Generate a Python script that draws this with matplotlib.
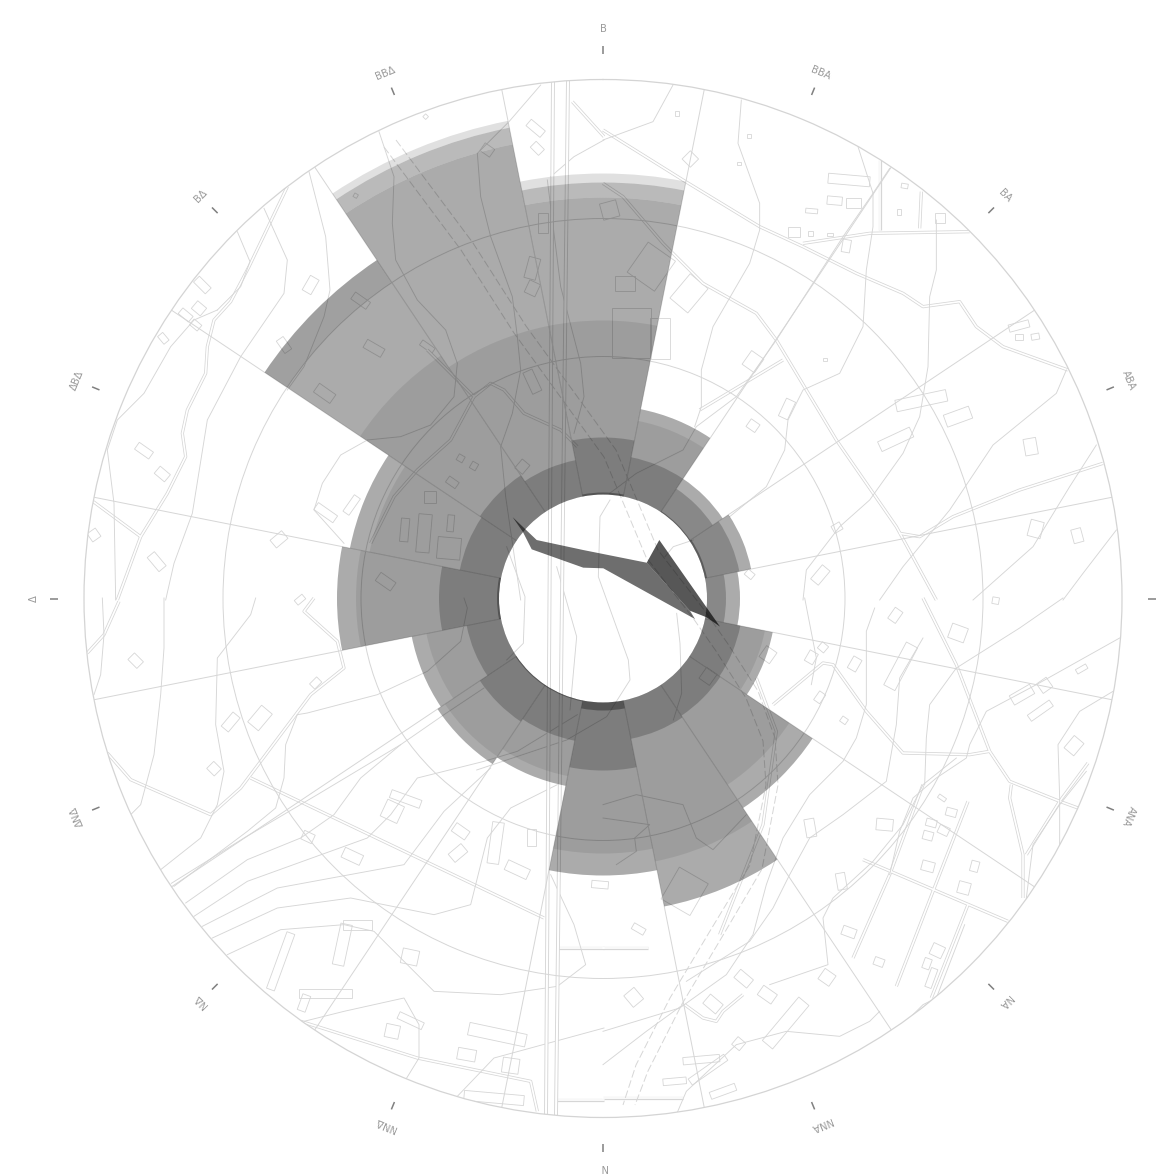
import matplotlib
matplotlib.use("Agg")
import matplotlib.pyplot as plt
from matplotlib.patches import Circle, Polygon
import numpy as np

W, H = 1165, 1176
CX, CY = 603, 598.5
R_OUT = 519
R_IN = 104

# compass sectors, clockwise from the top
labels = ["B", "BBA", "BA", "ABA", "", "ANA", "NA", "NNA", "N", "NNΔ", "NΔ", "ΔNΔ", "Δ", "ΔBΔ", "BΔ", "BBΔ"]
directions = np.arange(16) * 22.5

# rose values, one ring per series (outer radius per sector)
pale = [425, 0, 0, 0, 0, 0, 0, 0, 0, 0, 0, 0, 0, 0, 0, 487]
light = [416, 0, 0, 0, 0, 0, 0, 0, 0, 0, 0, 0, 0, 0, 0, 480]
medium = [401, 193, 144, 151, 137, 173, 252, 314, 277, 191, 199, 195, 266, 258, 407, 463]
inner = [278, 181, 0, 0, 0, 165, 224, 268, 255, 181, 190, 180, 247, 238, 292, 278]
core = [161, 144, 132, 139, 123, 140, 141, 143, 172, 145, 148, 139, 164, 146, 148, 141]
rim = [2, 0, 1, 2, 0, 0, 0, 0, 8, 1, 1, 0, 2, 0, 0, 0]
# the far part of the BΔ sector is a little darker
far_from = [0, 0, 0, 0, 0, 0, 0, 0, 0, 0, 0, 0, 0, 0, 380, 0]
far_to = [0, 0, 0, 0, 0, 0, 0, 0, 0, 0, 0, 0, 0, 0, 407, 0]

# centre shape, angle in degrees and radius
body_deg = [-48.0, -48.6, -22.1, 50.7, 98, 102.6, 0.6, -32.6, -55.4, -50.2]
body_r = [121.5, 88.4, 52.3, 56.5, 87.8, 94.3, 30.2, 36.6, 86.6, 104.5]
tri_deg = [50.7, 43.9, 103.5, 100.3, 98]
tri_r = [56.5, 81.2, 120.3, 105.4, 87.8]

# background map, traced in four quarter crops (3x px), origin per quarter
ORIGIN = {"nw": (84, 80), "ne": (603, 80), "sw": (84, 598), "se": (603, 598), "c": (360, 360)}

thin_lines = {
    "nw": [
        [(885, 155), (930, 290), (925, 430), (935, 540), (1000, 660), (1085, 750), (1120, 850), (1110, 950), (1040, 1035), (950, 1070), (850, 1080), (770, 1125), (715, 1210), (690, 1290), (780, 1390)],
        [(1370, 15), (1275, 125), (1180, 220), (1190, 350), (1220, 470), (1285, 650), (1300, 770), (1310, 870), (1285, 1000), (1250, 1100), (1265, 1250), (1310, 1560)],
        [(675, 275), (725, 470), (738, 630), (720, 710), (660, 860), (610, 930)],
        [(540, 385), (610, 540), (600, 640), (470, 830), (370, 1020), (325, 1300), (270, 1450), (245, 1560)],
        [(460, 455), (498, 545), (470, 620), (400, 690)],
        [(400, 690), (330, 720), (260, 800), (180, 940), (100, 1020), (70, 1110), (90, 1270), (95, 1560)],
        [(1400, 290), (1470, 230), (1560, 180)],
        [(1390, 300), (1430, 620), (1490, 850), (1500, 950), (1470, 1060)],
    ],
    "ne": [
        [(210, 15), (150, 125), (0, 180)],
        [(415, 60), (405, 190), (470, 370), (470, 450), (440, 550), (330, 740), (295, 870), (295, 980), (275, 1040)],
        [(860, 265), (810, 340), (720, 470), (520, 780), (400, 950), (280, 1040), (240, 1110), (100, 1180), (20, 1240)],
        [(765, 200), (810, 340), (810, 440), (790, 570), (780, 740), (710, 880), (600, 930), (555, 1020), (545, 1110), (490, 1220), (380, 1310)],
        [(1000, 420), (1000, 570), (980, 650), (975, 860), (950, 1010), (900, 1120), (800, 1260), (710, 1340), (610, 1470), (600, 1560)],
        [(1390, 870), (1360, 940), (1170, 1095), (1040, 1290), (900, 1460), (830, 1560)],
        [(1480, 1095), (1400, 1220), (1290, 1400), (1110, 1560)],
        [(1540, 1350), (1440, 1480), (1380, 1560)],
    ],
    "sw": [
        [(230, 815), (350, 720), (400, 620), (420, 520), (395, 380), (400, 180), (500, 50), (515, 0)],
        [(640, 350), (605, 440), (600, 540), (575, 630), (490, 700), (270, 865)],
        [(640, 350), (670, 345), (880, 290), (1030, 220), (1130, 130), (1150, 30), (1140, 0)],
        [(262, 856), (480, 720), (700, 590), (950, 440), (1080, 350), (1200, 270)],
        [(305, 915), (490, 785), (650, 720), (750, 650), (830, 540), (950, 440)],
        [(330, 955), (490, 850), (850, 720), (920, 650), (1000, 540), (1200, 490), (1300, 460), (1480, 350)],
        [(355, 985), (580, 870), (960, 800), (1080, 640), (1220, 510)],
        [(385, 1020), (580, 930), (800, 900), (1050, 950), (1160, 920), (1210, 720), (1280, 630), (1420, 560)],
        [(430, 1070), (590, 995), (780, 980), (870, 1000), (1050, 1180), (1250, 1190), (1420, 1165), (1505, 1100), (1470, 980), (1400, 830)],
        [(660, 1270), (780, 1240), (960, 1200), (1005, 1280), (1005, 1380), (965, 1445)],
        [(1120, 1495), (1230, 1380), (1560, 1290)],
        [(240, 0), (240, 150), (230, 290), (210, 470), (170, 620), (140, 650)],
        [(55, 0), (60, 110), (50, 230), (30, 290)],
    ],
    "se": [
        [(605, 0), (640, 180), (625, 260)],
        [(815, 30), (790, 100), (790, 320), (760, 420), (720, 490), (620, 590), (540, 720), (490, 860), (450, 1010), (370, 1130), (230, 1230), (0, 1300)],
        [(960, 120), (890, 240), (880, 380), (850, 550), (720, 650), (620, 720), (560, 830), (510, 930), (440, 1030), (250, 1150)],
        [(1380, 0), (1250, 90), (1060, 210), (980, 320), (970, 420), (965, 560)],
        [(1550, 120), (1300, 260), (1150, 340), (1100, 440), (1090, 480), (1000, 540), (930, 600), (890, 700), (860, 830)],
        [(1530, 280), (1430, 340), (1365, 440), (1370, 600), (1370, 760)],
        [(1060, 480), (960, 560), (900, 680), (810, 790), (690, 900), (660, 960), (675, 1100), (500, 1160)],
        [(830, 1240), (800, 1270), (710, 1315), (550, 1300), (400, 1340), (250, 1480), (220, 1550)],
        [(1085, 980), (1000, 1200), (960, 1220), (930, 1250)],
        [(0, 620), (100, 590), (240, 620), (280, 720), (330, 755), (430, 650)],
        [(0, 660), (140, 680), (95, 720), (100, 760), (40, 800)],
        [(240, 1220), (130, 1300), (0, 1400)],
        [(1450, 520), (1370, 620), (1290, 740), (1270, 900)],
    ],
    "c": [
        [(440, 560), (495, 710), (490, 850), (440, 900)],
        [(590, 620), (650, 830), (630, 1050)],
        [(750, 420), (720, 470), (715, 650), (805, 900), (810, 960), (740, 1070), (620, 1140), (350, 1230)],
        [(950, 760), (960, 850), (965, 1000), (940, 1080)],
        [(1000, 540), (940, 560), (915, 590)],
    ],
}

road_lines = {
    "nw": [
        [(610, 320), (495, 560), (440, 665), (390, 720), (370, 800), (365, 880), (310, 990), (295, 1060), (305, 1130), (250, 1240), (170, 1370), (100, 1560)],
        [(28, 1265), (170, 1370)],
        [(1030, 810), (1170, 950), (1220, 910), (1260, 930), (1320, 1000), (1430, 1050), (1480, 1100)],
        [(1170, 950), (1100, 1080), (1000, 1170), (930, 1250), (860, 1390)],
        [(1465, 65), (1560, 170)],
    ],
    "ne": [
        [(0, 150), (240, 300), (470, 440), (600, 500), (760, 580), (900, 640), (960, 680), (1070, 665), (1120, 740), (1200, 800), (1395, 870)],
        [(0, 310), (60, 350), (180, 490), (300, 610), (460, 700), (520, 780), (700, 1080), (880, 1340), (1000, 1560)],
        [(290, 990), (540, 840)],
        [(600, 490), (800, 460), (1100, 455)],
        [(830, 240), (830, 450)],
        [(955, 335), (950, 445)],
        [(1500, 1150), (1250, 1230), (1050, 1310), (950, 1370), (890, 1360)],
    ],
    "sw": [
        [(70, 465), (140, 545), (380, 650), (470, 570), (560, 450), (680, 290), (780, 210), (760, 130), (660, 40), (690, 0)],
        [(500, 540), (1380, 960)],
        [(1420, 1050), (1560, 1050)],
        [(1420, 1505), (1560, 1505)],
        [(650, 1270), (1000, 1380), (1340, 1450), (1360, 1540)],
        [(105, 10), (60, 110), (10, 165)],
    ],
    "se": [
        [(960, 0), (1060, 200), (1160, 460), (1220, 550), (1370, 610), (1425, 630)],
        [(1160, 460), (1100, 470), (900, 465), (860, 420), (790, 340), (690, 200), (660, 195), (510, 320)],
        [(780, 785), (1215, 970)],
        [(750, 1080), (860, 830), (960, 560)],
        [(880, 1165), (990, 880), (1095, 610)],
        [(1095, 920), (1040, 1060), (985, 1200)],
        [(1225, 560), (1220, 600), (1260, 770), (1260, 900)],
        [(1270, 770), (1370, 610), (1455, 495)],
        [(245, 1220), (300, 1260), (340, 1270), (360, 1240), (420, 1190)],
        [(350, 1010), (480, 680), (520, 400), (460, 240)],
        [(0, 1050), (135, 1050)],
        [(0, 1500), (240, 1500)],
    ],
}

# railway, whole picture px
rail_a = [(384, 147), (461, 250), (514, 333), (604, 457), (646, 557), (693, 618), (716, 651), (746, 698), (763, 741), (766, 785), (750, 865), (710, 931), (670, 998), (636, 1065), (623, 1105)]
rail_b = [(396, 140), (473, 243), (526, 326), (616, 450), (658, 550), (705, 611), (728, 644), (758, 691), (775, 738), (778, 785), (762, 869), (722, 937), (682, 1004), (648, 1071), (635, 1105)]
main_road_a = [(553, 80), (546, 1115)]
main_road_b = [(568, 80), (556, 1115)]

# houses: centre x, centre y, width, height, angle (crop px)
houses = {
    "nw": [(830, 662, 55, 25, 35), (870, 805, 60, 28, 30), (722, 940, 60, 32, 35), (1210, 210, 35, 28, 35), (1030, 800, 45, 18, 35), (680, 615, 30, 50, 30),
           (355, 615, 50, 25, 45), (345, 685, 35, 30, 40), (305, 705, 40, 22, 40), (335, 735, 30, 22, 40), (238, 775, 30, 20, 50), (180, 1112, 52, 25, 35),
           (235, 1182, 40, 28, 40), (600, 795, 45, 25, 55), (725, 1298, 70, 25, 35), (803, 1275, 60, 22, -55), (585, 1378, 45, 30, -40), (1130, 1135, 20, 20, 30),
           (1170, 1158, 20, 22, 30), (1105, 1207, 35, 22, 35), (1037, 1250, 35, 35, 0), (962, 1350, 25, 70, 5), (1020, 1360, 40, 115, 5), (1095, 1405, 70, 65, 5),
           (1100, 1330, 20, 50, 5), (905, 1505, 55, 30, 35), (30, 1365, 30, 30, -35), (218, 1445, 55, 28, 50), (1345, 565, 35, 65, 15), (1345, 625, 35, 40, 25),
           (1378, 430, 30, 60, 0), (1345, 905, 30, 70, -25), (1315, 1160, 30, 35, 40), (1355, 145, 55, 25, 40), (1360, 205, 35, 25, 45), (1025, 110, 12, 12, 45), (815, 347, 12, 12, 30)],
    "ne": [(738, 300, 125, 30, 5), (695, 362, 45, 25, 5), (752, 368, 45, 30, 0), (626, 393, 36, 14, 5), (573, 455, 35, 30, 0), (622, 460, 16, 14, 0),
           (680, 463, 18, 10, 0), (888, 395, 14, 18, 0), (905, 318, 20, 14, 10), (1010, 415, 30, 30, 0), (730, 498, 25, 38, 10), (262, 237, 35, 35, 45),
           (1248, 738, 62, 22, -15), (1247, 771, 24, 18, 0), (1297, 770, 24, 18, -10), (955, 962, 155, 35, -12), (1065, 1010, 80, 38, -20), (878, 1078, 105, 32, -25),
           (1283, 1100, 38, 50, -10), (1423, 1367, 30, 42, -15), (1298, 1347, 40, 50, 15), (552, 987, 30, 58, 25), (450, 1037, 32, 28, 35), (450, 845, 45, 50, 35),
           (652, 1485, 55, 30, -50), (702, 1343, 28, 24, -30), (440, 1483, 26, 20, 40), (145, 560, 100, 110, 35), (258, 640, 70, 95, 40), (85, 760, 115, 150, 0),
           (172, 775, 60, 125, 0), (65, 610, 60, 45, 0), (20, 390, 50, 50, -15), (222, 100, 14, 14, 0), (437, 168, 12, 12, 0), (408, 250, 14, 10, 0), (666, 838, 10, 10, 0)],
    "sw": [(155, 188, 38, 28, 45), (695, 255, 30, 22, -45), (440, 372, 55, 28, -50), (528, 360, 65, 42, -50), (390, 512, 32, 30, 45), (672, 717, 35, 28, 25),
           (925, 640, 55, 55, 25), (965, 603, 95, 25, 20), (805, 775, 60, 32, 25), (1130, 700, 48, 30, 35), (1122, 765, 50, 32, -40), (1235, 735, 35, 125, 8),
           (1343, 718, 28, 50, 0), (1300, 815, 72, 32, 25), (1548, 860, 50, 22, 5), (775, 1040, 35, 125, 12), (820, 980, 85, 30, 0), (590, 1090, 25, 180, 20),
           (725, 1187, 160, 26, 0), (660, 1215, 25, 50, 20), (978, 1077, 50, 45, 12), (925, 1300, 42, 40, 12), (1240, 1310, 175, 38, 12), (1148, 1370, 55, 35, 10),
           (1280, 1403, 50, 45, 8), (980, 1268, 80, 22, 25), (1230, 1500, 180, 30, 5), (648, 5, 30, 18, -40)],
    "se": [(877, 52, 28, 40, 35), (893, 205, 38, 145, 28), (755, 198, 28, 40, 30), (660, 148, 24, 24, 40), (625, 178, 28, 36, 30), (650, 298, 22, 32, 35),
           (723, 367, 20, 18, 35), (1065, 105, 50, 45, 20), (1257, 290, 70, 32, -30), (1312, 338, 80, 22, -35), (1325, 262, 35, 35, -35), (1413, 443, 38, 48, 40),
           (1436, 213, 35, 15, -30), (1178, 8, 20, 20, 10), (845, 680, 50, 35, 5), (1017, 600, 25, 12, 35), (1045, 643, 32, 24, 15), (985, 675, 32, 22, 15),
           (975, 713, 30, 26, 15), (1022, 697, 32, 26, 25), (975, 805, 38, 30, 15), (1115, 805, 24, 32, 15), (1083, 870, 36, 36, 15), (715, 850, 28, 50, -10),
           (622, 690, 30, 55, -10), (738, 1002, 42, 28, 20), (828, 1092, 30, 24, 20), (1003, 1058, 38, 36, 25), (972, 1097, 22, 32, 20), (985, 1140, 20, 60, 20),
           (672, 1138, 40, 38, 35), (422, 1142, 50, 32, 40), (493, 1190, 50, 34, 35), (330, 1218, 50, 36, 40), (92, 1198, 40, 45, -40), (548, 1275, 40, 170, 40),
           (407, 1337, 30, 30, 40), (107, 993, 40, 20, 30), (245, 880, 100, 110, 30), (315, 235, 38, 40, 35), (495, 170, 38, 40, 35), (295, 1385, 110, 22, -5),
           (215, 1450, 70, 20, -5), (315, 1415, 130, 22, -35), (360, 1480, 80, 22, -20)],
}

# canvas
fig = plt.figure(figsize=(W / 100, H / 100), dpi=100, facecolor="white")

# map layer uses picture pixels directly
map_ax = fig.add_axes([0, 0, 1, 1])
map_ax.set_xlim(0, W)
map_ax.set_ylim(H, 0)
map_ax.axis("off")
clip = Circle((CX, CY), R_OUT, transform=map_ax.transData)


def to_px(quarter, pts):
    ox, oy = ORIGIN[quarter]
    pts = np.array(pts, dtype=float)
    return ox + pts[:, 0] / 3, oy + pts[:, 1] / 3


MAP_GREY = "#d6d6d6"

for q, lines in road_lines.items():
    for pts in lines:
        x, y = to_px(q, pts)
        map_ax.plot(x, y, color=MAP_GREY, lw=2.3, solid_capstyle="butt", clip_path=clip)
for q, lines in road_lines.items():
    for pts in lines:
        x, y = to_px(q, pts)
        map_ax.plot(x, y, color="white", lw=1.2, solid_capstyle="round", clip_path=clip)

for q, lines in thin_lines.items():
    for pts in lines:
        x, y = to_px(q, pts)
        map_ax.plot(x, y, color=MAP_GREY, lw=0.65, clip_path=clip)

for q, items in houses.items():
    ox, oy = ORIGIN[q]
    for cx, cy, w, h, ang in items:
        a = np.deg2rad(ang)
        corners = np.array([(-w / 2, -h / 2), (w / 2, -h / 2), (w / 2, h / 2), (-w / 2, h / 2)])
        rot = np.array([[np.cos(a), -np.sin(a)], [np.sin(a), np.cos(a)]])
        xy = (corners @ rot.T + (cx, cy)) / 3 + (ox, oy)
        p = Polygon(xy, closed=True, fill=False, edgecolor=MAP_GREY, lw=0.6)
        map_ax.add_patch(p)
        p.set_clip_path(clip)

for road in (main_road_a, main_road_b):
    xs, ys = zip(*road)
    map_ax.plot(xs, ys, color=MAP_GREY, lw=2.8, solid_capstyle="butt", clip_path=clip)
    map_ax.plot(xs, ys, color="white", lw=1.5, solid_capstyle="butt", clip_path=clip)

for rail in (rail_a, rail_b):
    xs, ys = zip(*rail)
    map_ax.plot(xs, ys, color=MAP_GREY, lw=0.7, ls=(0, (8, 3)), clip_path=clip)

# rose on a polar axes over the map
ax = fig.add_axes([(CX - R_OUT) / W, (H - CY - R_OUT) / H, 2 * R_OUT / W, 2 * R_OUT / H], projection="polar")
ax.patch.set_alpha(0)
ax.set_theta_zero_location("N")
ax.set_theta_direction(-1)
ax.set_ylim(0, R_OUT)
ax.set_xticks([])
ax.set_yticks([242, 380])
ax.set_yticklabels([])
ax.grid(True, color=MAP_GREY, lw=0.7)
ax.set_axisbelow(True)
ax.spines["polar"].set_color("#d4d4d4")
ax.spines["polar"].set_linewidth(0.9)

theta = np.deg2rad(directions)
width = np.deg2rad(22.5)
edges = theta + width / 2
ax.vlines(edges, R_IN, R_OUT, color=MAP_GREY, lw=0.7, zorder=1)

pale_a, light_a, medium_a, inner_a, core_a = np.array(pale, float), np.array(light, float), np.array(medium, float), np.array(inner, float), np.array(core, float)
far_a, far_b = np.array(far_from, float), np.array(far_to, float)
bar = dict(width=width, color="black", linewidth=0, zorder=2)
ax.bar(theta, pale_a - light_a, bottom=light_a, alpha=0.12, **bar)
ax.bar(theta, np.where(light_a > 0, light_a - medium_a, 0), bottom=medium_a, alpha=0.27, **bar)
ax.bar(theta, medium_a - R_IN, bottom=R_IN, alpha=0.33, **bar)
ax.bar(theta, far_b - far_a, bottom=far_a, alpha=0.06, **bar)
ax.bar(theta, np.maximum(inner_a - R_IN, 0), bottom=R_IN, alpha=0.08, **bar)
ax.bar(theta, core_a - R_IN, bottom=R_IN, alpha=0.2, **bar)
ax.bar(theta, rim, bottom=R_IN, alpha=0.32, **bar)

ax.fill(np.deg2rad(body_deg), body_r, color="black", alpha=0.57, linewidth=0, zorder=3)
ax.fill(np.deg2rad(tri_deg), tri_r, color="black", alpha=0.66, linewidth=0, zorder=3)

# compass ticks and letters outside the circle
for t, name in zip(theta, labels):
    ax.plot([t, t], [545, 553], color="#808080", lw=1.1, clip_on=False, solid_capstyle="butt")
    if name:
        ax.text(t, 569, name, fontsize=7.2, color="#9a9a9a", ha="center", va="center",
                rotation=-np.rad2deg(t), rotation_mode="anchor", clip_on=False)
ax.set_ylim(0, R_OUT)

fig.savefig("out.png", dpi=100)
